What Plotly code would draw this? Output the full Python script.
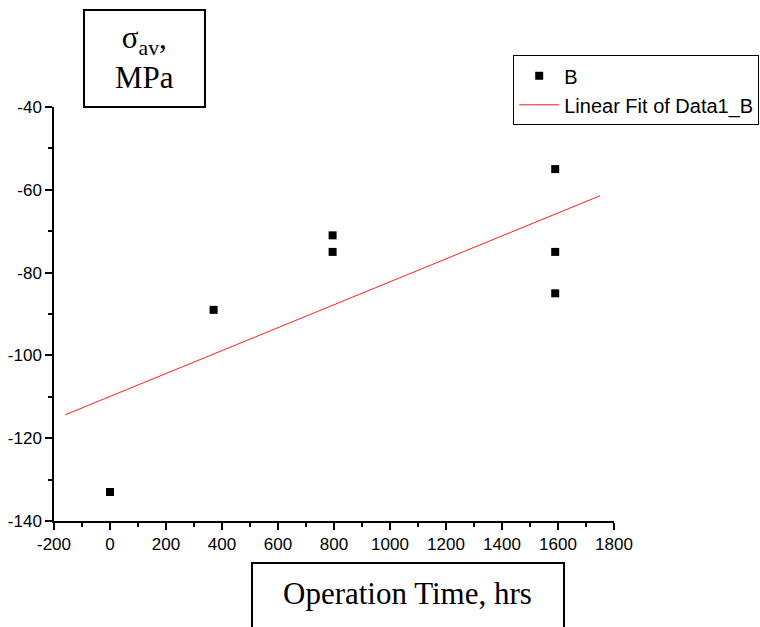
import numpy as np
import plotly.graph_objects as go

# Data
time_hrs = [0, 370, 795, 795, 1590, 1590, 1590]
sigma_av = [-133, -89, -71, -75, -55, -75, -85]
fit_x_range = [-160, 1750]
x_ticks = [-200, 0, 200, 400, 600, 800, 1000, 1200, 1400, 1600, 1800]
y_ticks = [-140, -120, -100, -80, -60, -40]

slope, intercept = np.polyfit(time_hrs, sigma_av, 1)
fit_y = [slope * x + intercept for x in fit_x_range]

fig = go.Figure()
fig.add_trace(go.Scatter(
    x=time_hrs, y=sigma_av, mode="markers", name="B",
    marker=dict(symbol="square", size=8, color="black"),
    cliponaxis=False,
))
fig.add_trace(go.Scatter(
    x=fit_x_range, y=fit_y, mode="lines", name="Linear Fit of Data1_B",
    line=dict(color="#ff2020", width=1),
))

axis_common = dict(
    showline=True, linecolor="black", linewidth=1.5, mirror=False,
    showgrid=False, zeroline=False,
    ticks="outside", ticklen=7, tickwidth=1.5, tickcolor="black",
    tickfont=dict(family="Liberation Sans, Arial", size=17, color="black"),
)

fig.update_xaxes(
    range=[-200, 1800], tickvals=x_ticks, ticktext=[str(v) for v in x_ticks],
    minor=dict(ticks="outside", ticklen=4, tickwidth=1.5, tickcolor="black", dtick=100),
    **axis_common,
)
fig.update_yaxes(
    range=[-140, -40], tickvals=y_ticks, ticktext=[str(v) for v in y_ticks],
    minor=dict(ticks="outside", ticklen=4, tickwidth=1.5, tickcolor="black", dtick=10),
    **axis_common,
)

# Label boxes
fig.add_shape(type="rect", xref="paper", yref="paper",
              x0=0.0536, x1=0.2696, y0=1.0, y1=1.234,
              line=dict(color="black", width=2), fillcolor="white")
fig.add_annotation(xref="paper", yref="paper", x=0.1616, y=1.12,
                   text="σ<sub>av</sub>,<br>MPa", showarrow=False,
                   font=dict(family="Liberation Serif, Times New Roman", size=31, color="black"),
                   xanchor="center", yanchor="middle", align="center")

fig.add_shape(type="rect", xref="paper", yref="paper",
              x0=0.3536, x1=0.9107, y0=-0.1014, y1=-0.30,
              line=dict(color="black", width=2), fillcolor="white")
fig.add_annotation(xref="paper", yref="paper", x=0.631, y=-0.176,
                   text="Operation Time, hrs", showarrow=False,
                   font=dict(family="Liberation Serif, Times New Roman", size=31, color="black"),
                   xanchor="center", yanchor="middle")

fig.update_layout(
    width=760, height=627,
    margin=dict(l=54, r=146, t=107, b=106, autoexpand=False),
    plot_bgcolor="white", paper_bgcolor="white",
    showlegend=True,
    legend=dict(x=0.82, y=1.125, xanchor="left", yanchor="top",
                bgcolor="white", bordercolor="black", borderwidth=1,
                font=dict(family="Liberation Sans, Arial", size=20, color="black"),
                tracegroupgap=0, itemwidth=40),
)

fig.write_html("out.html")
